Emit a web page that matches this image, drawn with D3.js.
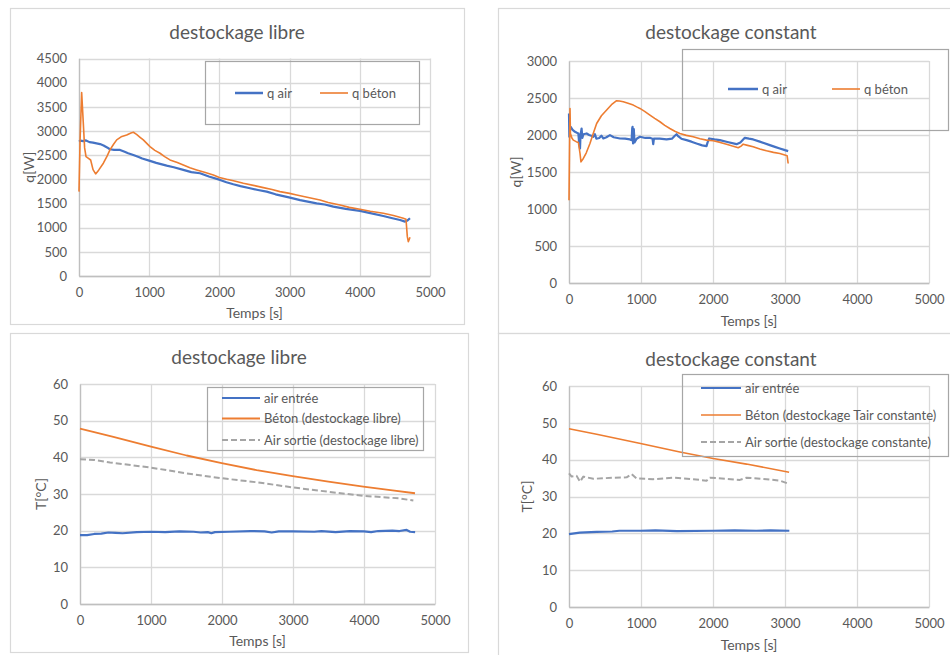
<!DOCTYPE html>
<html><head><meta charset="utf-8">
<script src="https://cdn.jsdelivr.net/npm/d3@7"></script>
<style>
html,body{margin:0;padding:0;background:#fff;}
svg{display:block;font-family:Lato,"Open Sans",sans-serif;}
</style></head>
<body>
<svg id="c" width="950" height="655"></svg>
<script>
// ---------- DATA ----------
const xTicks = [0,1000,2000,3000,4000,5000];
const qTicksLibre = [0,500,1000,1500,2000,2500,3000,3500,4000,4500];
const qTicksConst = [0,500,1000,1500,2000,2500,3000];
const tTicks = [0,10,20,30,40,50,60];

const qAirLibre = [[0,2780],[20,2800],[60,2790],[100,2805],[150,2770],[200,2760],[250,2745],[300,2730],[350,2700],[400,2660],[440,2622],[500,2610],[585,2608],[650,2570],[700,2540],[774,2505],[850,2462],[900,2430],[1011,2381],[1100,2340],[1249,2284],[1350,2250],[1486,2195],[1600,2150],[1724,2126],[1850,2060],[2009,1988],[2100,1940],[2198,1898],[2300,1860],[2436,1815],[2550,1780],[2673,1746],[2800,1690],[3006,1622],[3150,1570],[3385,1504],[3500,1480],[3623,1435],[3800,1390],[4003,1346],[4150,1300],[4335,1242],[4450,1200],[4573,1159],[4644,1125],[4680,1150],[4715,1194]];
const qBetonLibre = [[0,1746],[15,2800],[38,3796],[60,3200],[80,2650],[100,2470],[130,2440],[166,2400],[200,2200],[237,2112],[280,2190],[347,2333],[400,2480],[441,2609],[490,2720],[537,2816],[600,2880],[679,2919],[740,2960],[774,2974],[820,2930],[870,2870],[916,2816],[1011,2678],[1080,2600],[1154,2540],[1220,2470],[1296,2402],[1400,2350],[1486,2298],[1580,2240],[1676,2195],[1800,2140],[1914,2091],[2000,2040],[2103,2001],[2200,1970],[2341,1919],[2500,1870],[2626,1829],[2750,1790],[2863,1746],[3000,1710],[3101,1677],[3250,1630],[3433,1574],[3550,1520],[3718,1470],[3850,1420],[4003,1380],[4150,1340],[4335,1297],[4480,1250],[4620,1194],[4658,1173],[4677,814],[4691,711],[4705,760],[4715,800]];

const qAirConst = [[0,2291],[5,1976],[12,2060],[23,2111],[50,2070],[83,2043],[110,2030],[130,2021],[140,1900],[153,1818],[160,2000],[175,2088],[185,1960],[200,2010],[245,2021],[280,2000],[310,1990],[338,1976],[360,2010],[380,1950],[420,1960],[450,1990],[476,1953],[520,1970],[569,1998],[620,1970],[708,1953],[780,1950],[846,1940],[870,1930],[878,2090],[883,2111],[890,1885],[900,2080],[910,1900],[940,1950],[985,1976],[1060,1960],[1130,1960],[1160,1950],[1170,1876],[1180,1953],[1260,1950],[1355,1940],[1430,1950],[1470,1990],[1494,2010],[1520,1980],[1560,1950],[1633,1931],[1700,1910],[1771,1885],[1850,1860],[1910,1849],[1925,1900],[1947,1953],[2020,1940],[2095,1931],[2200,1905],[2327,1876],[2380,1900],[2442,1962],[2500,1950],[2558,1940],[2650,1910],[2789,1863],[2860,1840],[2928,1818],[3000,1795],[3044,1782]];
const qBetonConst = [[0,1119],[7,1800],[14,2359],[20,2021],[40,1960],[60,1931],[100,1910],[130,1899],[153,1750],[166,1637],[199,1683],[240,1760],[291,1885],[340,2030],[384,2156],[450,2260],[523,2337],[590,2410],[661,2463],[700,2460],[754,2449],[820,2430],[893,2404],[940,2380],[985,2359],[1050,2320],[1124,2269],[1190,2225],[1263,2179],[1330,2130],[1401,2088],[1470,2050],[1540,2021],[1630,1995],[1725,1976],[1820,1950],[1910,1931],[2003,1922],[2100,1900],[2188,1876],[2270,1850],[2350,1827],[2390,1850],[2419,1876],[2480,1860],[2558,1840],[2650,1812],[2743,1786],[2840,1765],[2928,1750],[3030,1719],[3044,1615]];

const tAirEntreeLibre = [[0,18.8],[100,18.8],[200,19.1],[300,19.2],[400,19.5],[500,19.4],[600,19.3],[800,19.6],[1000,19.7],[1200,19.6],[1400,19.8],[1600,19.7],[1700,19.5],[1800,19.6],[1850,19.3],[1900,19.6],[2100,19.7],[2400,19.9],[2600,19.8],[2700,19.5],[2800,19.8],[3000,19.8],[3300,19.7],[3400,19.9],[3600,19.6],[3800,19.9],[4000,19.8],[4100,19.6],[4200,19.9],[4400,20.0],[4500,19.9],[4600,20.2],[4650,19.7],[4720,19.6]];
const tBetonLibre = [[0,47.8],[200,46.9],[470,45.6],[1000,42.9],[1502,40.5],[1995,38.4],[2488,36.5],[2995,34.9],[3498,33.4],[3990,32.0],[4400,31.0],[4718,30.2]];
const tSortieLibre = [[0,39.5],[200,39.3],[423,38.6],[1000,37.2],[1502,35.6],[1995,34.3],[2488,33.2],[2995,31.8],[3498,30.6],[3990,29.5],[4507,28.8],[4695,28.2]];

const tAirEntreeConst = [[0,19.8],[150,20.2],[384,20.4],[600,20.5],[700,20.7],[994,20.7],[1200,20.8],[1500,20.6],[2003,20.7],[2300,20.8],[2600,20.7],[2800,20.8],[3060,20.7]];
const tBetonConst = [[0,48.4],[384,46.9],[994,44.4],[1540,42.1],[2003,40.3],[2465,38.8],[3057,36.6]];
const tSortieConst = [[0,36.3],[37,35.4],[106,35.6],[153,34.0],[199,35.4],[338,34.8],[615,35.1],[800,35.2],[870,36.1],[939,34.9],[1170,34.7],[1448,35.1],[1725,34.7],[1910,34.3],[1957,35.1],[2188,34.8],[2373,34.5],[2465,35.1],[2743,34.7],[2928,34.3],[3057,33.4]];

// ---------- STYLE ----------
const BLUE="#4472C4", ORANGE="#ED7D31", GREY="#A5A5A5", TXT="#595959", GRID="#D9D9D9";
const svg = d3.select("#c");

function panel(cfg){
  const g = svg.append("g");
  g.append("rect").attr("x",cfg.frame[0]+0.5).attr("y",cfg.frame[1]+0.5)
   .attr("width",cfg.frame[2]).attr("height",cfg.frame[3])
   .attr("fill","none").attr("stroke","#D9D9D9").attr("stroke-width",1.2);
  const x = d3.scaleLinear().domain([0,5000]).range([cfg.plot[0],cfg.plot[1]]);
  const y = d3.scaleLinear().domain([0,d3.max(cfg.yTicks)]).range([cfg.plot[3],cfg.plot[2]]);
  g.append("g").selectAll("line").data(cfg.yTicks).join("line")
   .attr("x1",cfg.plot[0]).attr("x2",cfg.plot[1])
   .attr("y1",d=>Math.round(y(d))+0.5).attr("y2",d=>Math.round(y(d))+0.5)
   .attr("stroke",GRID).attr("stroke-width",1.3);
  g.append("g").selectAll("line").data(xTicks).join("line")
   .attr("y1",cfg.plot[2]).attr("y2",cfg.plot[3])
   .attr("x1",d=>Math.round(x(d))+0.5).attr("x2",d=>Math.round(x(d))+0.5)
   .attr("stroke",GRID).attr("stroke-width",1.3);
  const ax = g.append("g").attr("transform",`translate(0,${cfg.plot[3]})`)
    .call(d3.axisBottom(x).tickValues(xTicks).tickSize(0).tickPadding(12).tickFormat(d3.format("d")));
  const ay = g.append("g").attr("transform",`translate(${cfg.plot[0]},0)`)
    .call(d3.axisLeft(y).tickValues(cfg.yTicks).tickSize(0).tickPadding(12).tickFormat(d3.format("d")));
  [ax,ay].forEach(a=>{
    a.select(".domain").attr("stroke","#BFBFBF").attr("stroke-width",1.3);
    a.selectAll("text").attr("fill",TXT).attr("font-size",13).attr("font-family","Lato,'Open Sans',sans-serif");
  });
  g.append("text").attr("x",cfg.titleX).attr("y",cfg.titleY).attr("text-anchor","middle")
   .attr("fill",TXT).attr("font-size",19).text(cfg.title);
  g.append("text").attr("x",(cfg.plot[0]+cfg.plot[1])/2).attr("y",cfg.xTitleY).attr("text-anchor","middle")
   .attr("fill",TXT).attr("font-size",14).text("Temps [s]");
  g.append("text").attr("transform",`translate(${cfg.yTitleX},${(cfg.plot[2]+cfg.plot[3])/2}) rotate(-90)`)
   .attr("text-anchor","middle").attr("fill",TXT).attr("font-size",14).text(cfg.yTitle);
  const line = d3.line().x(d=>x(d[0])).y(d=>y(d[1]));
  cfg.series.forEach(s=>{
    g.append("path").datum(s.data).attr("d",line).attr("fill","none")
     .attr("stroke",s.color).attr("stroke-width",s.w)
     .attr("stroke-dasharray",s.dash||null).attr("stroke-linejoin","round");
  });
  const L = cfg.legend;
  g.append("rect").attr("x",L.box[0]+0.5).attr("y",L.box[1]+0.5).attr("width",L.box[2]).attr("height",L.box[3])
   .attr("fill","none").attr("stroke","#A6A6A6").attr("stroke-width",1.2);
  L.items.forEach((it,i)=>{
    const s = cfg.series[i];
    g.append("line").attr("x1",it[0]).attr("x2",it[1]).attr("y1",it[2]).attr("y2",it[2])
     .attr("stroke",s.color).attr("stroke-width",s.lw||s.w).attr("stroke-dasharray",s.dash||null);
    g.append("text").attr("x",it[1]+4).attr("y",it[2]).attr("dy","0.35em")
     .attr("fill",TXT).attr("font-size",13).text(s.name);
  });
}

panel({
  frame:[10,8,454,316], plot:[79,430,58.5,276], yTicks:qTicksLibre,
  title:"destockage libre", titleX:237, titleY:39, xTitleY:318, yTitleX:34, yTitle:"q[W]",
  series:[
    {name:"q air", data:qAirLibre, color:BLUE, w:2.2, lw:2.5},
    {name:"q béton", data:qBetonLibre, color:ORANGE, w:1.6, lw:1.6}
  ],
  legend:{box:[205,61,214,63], items:[[235,263,93],[320,348,93]]}
});
panel({
  frame:[498,8,470,325], plot:[569,929,61,283], yTicks:qTicksConst,
  title:"destockage constant", titleX:731, titleY:39, xTitleY:326, yTitleX:521, yTitle:"q[W]",
  series:[
    {name:"q air", data:qAirConst, color:BLUE, w:2.2, lw:2.5},
    {name:"q béton", data:qBetonConst, color:ORANGE, w:1.6, lw:1.6}
  ],
  legend:{box:[682,49,266,81], items:[[728,758,89],[832,860,89]]}
});
panel({
  frame:[10,333,458,319], plot:[80,435,384,604], yTicks:tTicks,
  title:"destockage libre", titleX:239, titleY:364, xTitleY:646, yTitleX:46, yTitle:"T[°C]",
  series:[
    {name:"air entrée", data:tAirEntreeLibre, color:BLUE, w:2.2},
    {name:"Béton (destockage libre)", data:tBetonLibre, color:ORANGE, w:1.8},
    {name:"Air sortie (destockage libre)", data:tSortieLibre, color:GREY, w:2, dash:"6,3"}
  ],
  legend:{box:[207,387,216,63], items:[[222,260,398],[222,260,418.5],[222,260,440]]}
});
panel({
  frame:[498,333,470,330], plot:[569,929,386,607], yTicks:tTicks,
  title:"destockage constant", titleX:731, titleY:366, xTitleY:650, yTitleX:532, yTitle:"T[°C]",
  series:[
    {name:"air entrée", data:tAirEntreeConst, color:BLUE, w:2.2},
    {name:"Béton (destockage Tair constante)", data:tBetonConst, color:ORANGE, w:1.6},
    {name:"Air sortie (destockage constante)", data:tSortieConst, color:GREY, w:2, dash:"6,3"}
  ],
  legend:{box:[682,374,266,82], items:[[701,741,388],[701,741,415],[701,741,442]]}
});
</script>
</body></html>
